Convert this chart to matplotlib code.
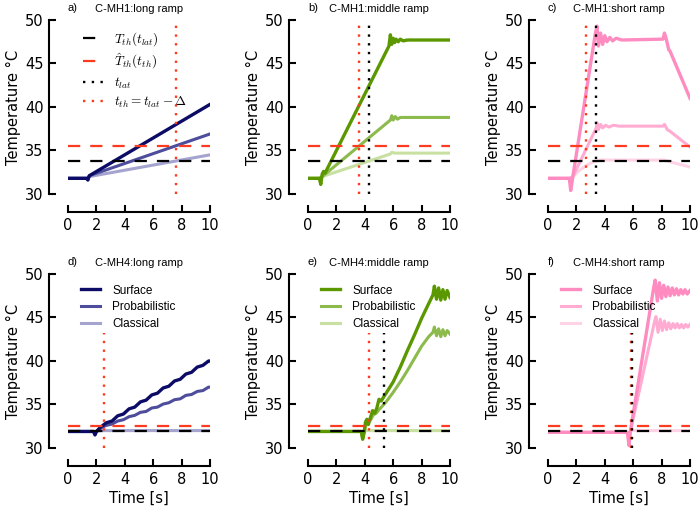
import numpy as np
from matplotlib import pyplot as plt
from matplotlib.lines import Line2D

plt.rcParams['font.family'] = 'DejaVu Sans'
plt.rcParams['mathtext.fontset'] = 'cm'

# panel titles
letters = ['a)', 'b)', 'c)', 'd)', 'e)', 'f)']
titles = ['C-MH1:long ramp', 'C-MH1:middle ramp', 'C-MH1:short ramp',
          'C-MH4:long ramp', 'C-MH4:middle ramp', 'C-MH4:short ramp']

# threshold levels (black = T_th(t_lat), red = hat T_th(t_th))
T_lat = [33.8, 33.8, 33.8, 32.0, 32.0, 32.0]
T_th = [35.5, 35.5, 35.5, 32.5, 32.5, 32.5]
# vertical markers (None = outside of plot)
t_lat = [None, 4.3, 3.35, None, 5.35, 5.95]
t_th = [7.6, 3.6, 2.7, 2.5, 4.3, 5.85]
vline_top = [49.5, 49.5, 49.5, 43.2, 43.2, 43.2]

# ---- a) C-MH1 long ramp
a_surf_t = [0, 1.3, 1.4, 1.5, 10]
a_surf_T = [31.8, 31.8, 31.6, 32.1, 40.3]
a_prob_t = [0, 1.3, 1.4, 1.5, 10]
a_prob_T = [31.8, 31.8, 31.7, 32.1, 36.9]
a_clas_t = [0, 1.3, 1.5, 10]
a_clas_T = [31.8, 31.8, 32.0, 34.5]

# ---- b) C-MH1 middle ramp
b_surf_t = [0, 0.8, 0.9, 1.0, 1.1, 1.2, 5.7, 5.8, 5.9, 6.0, 6.1, 6.2, 6.35, 6.5, 6.7, 7.0, 10]
b_surf_T = [31.8, 31.8, 31.1, 32.3, 32.6, 32.4, 47.0, 48.3, 47.2, 47.9, 47.4, 47.8, 47.5, 47.8, 47.6, 47.7, 47.7]
b_prob_t = [0, 0.8, 1.0, 5.8, 5.9, 6.0, 6.15, 6.3, 6.5, 10]
b_prob_T = [31.8, 31.8, 32.0, 38.5, 39.0, 38.5, 38.9, 38.6, 38.8, 38.8]
b_clas_t = [0, 0.8, 1.0, 5.8, 5.9, 6.1, 10]
b_clas_T = [31.8, 31.8, 32.0, 34.6, 34.8, 34.7, 34.7]

# ---- c) C-MH1 short ramp
c_surf_t = [0, 1.5, 1.6, 1.75, 3.35, 3.45, 3.55, 3.7, 3.85, 4.0, 4.15, 4.35, 4.55, 4.8, 5.2,
            8.1, 8.2, 8.3, 8.5, 8.6, 10]
c_surf_T = [31.8, 31.8, 30.4, 32.0, 48.6, 49.3, 47.0, 48.5, 47.2, 48.2, 47.5, 48.0, 47.6, 47.9, 47.7,
            47.8, 48.5, 48.0, 46.6, 46.4, 41.0]
c_prob_t = [0, 1.5, 1.75, 3.4, 3.45, 3.55, 3.7, 3.85, 4.05, 4.3, 4.6, 5.0, 8.1, 8.2, 8.4, 8.6, 10]
c_prob_T = [31.8, 31.8, 32.0, 37.6, 38.2, 37.4, 38.0, 37.6, 37.9, 37.7, 37.9, 37.8, 37.8, 38.0, 37.4, 37.2, 35.4]
c_clas_t = [0, 1.5, 1.75, 2.2, 2.7, 3.2, 3.7, 8.2, 8.6, 10]
c_clas_T = [31.8, 31.8, 32.0, 32.7, 33.3, 33.7, 33.9, 33.9, 33.7, 33.1]

# ---- d) C-MH4 long ramp
d_surf_t = [0, 1.8, 1.9, 2.0, 2.3, 2.7, 3.1, 3.5, 3.9, 4.3, 4.7, 5.1, 5.5, 5.9, 6.3, 6.7,
            7.1, 7.5, 7.9, 8.3, 8.7, 9.1, 9.5, 9.9, 10]
d_surf_T = [31.9, 31.9, 31.5, 31.9, 32.4, 32.9, 33.1, 33.7, 33.9, 34.5, 34.7, 35.3, 35.5, 36.1, 36.3, 36.9,
            37.1, 37.7, 37.9, 38.5, 38.7, 39.3, 39.5, 40.0, 40.0]
d_prob_t = [0, 1.8, 1.9, 2.0, 2.3, 2.7, 3.1, 3.5, 3.9, 4.3, 4.7, 5.1, 5.5, 5.9, 6.3, 6.7,
            7.1, 7.5, 7.9, 8.3, 8.7, 9.1, 9.5, 9.9, 10]
d_prob_T = [31.9, 31.9, 31.6, 31.9, 32.3, 32.6, 32.75, 33.1, 33.25, 33.6, 33.75, 34.1, 34.2, 34.6, 34.7, 35.05,
            35.2, 35.55, 35.65, 36.05, 36.15, 36.5, 36.6, 37.0, 37.0]
d_clas_t = [0, 1.8, 1.9, 2.0, 2.3, 10]
d_clas_T = [31.9, 31.9, 31.6, 31.9, 32.0, 32.0]

# ---- e) C-MH4 middle ramp
e_surf_t = [0, 3.75, 3.85, 3.95, 4.05, 4.15, 4.25, 4.4, 4.55, 4.7, 4.85, 5.0, 5.15, 5.5, 6.0, 6.5,
            7.0, 7.5, 8.0, 8.5, 8.8, 8.9, 9.05, 9.2, 9.35, 9.5, 9.65, 9.8, 10]
e_surf_T = [31.9, 31.9, 31.0, 31.8, 33.0, 33.3, 32.7, 33.5, 34.3, 34.0, 34.6, 35.6, 35.4, 36.3, 37.6, 39.3,
            41.2, 43.0, 44.9, 46.6, 47.6, 48.6, 47.1, 48.4, 47.0, 48.2, 47.1, 48.1, 47.3]
e_prob_t = [0, 3.75, 3.85, 3.95, 4.05, 4.2, 4.4, 4.6, 4.8, 5.0, 5.5, 6.0, 6.5, 7.0, 7.5, 8.0, 8.5,
            8.8, 8.9, 9.05, 9.2, 9.35, 9.5, 9.65, 9.8, 10]
e_prob_T = [31.9, 31.9, 31.2, 31.8, 32.5, 33.0, 33.2, 33.8, 34.0, 34.4, 35.3, 36.4, 37.6, 38.9, 40.3, 41.7, 42.8,
            43.3, 43.9, 42.9, 43.7, 42.8, 43.6, 42.9, 43.5, 43.1]
e_clas_t = [0, 3.75, 3.85, 4.0, 4.1, 10]
e_clas_T = [31.9, 31.9, 31.2, 31.9, 32.0, 32.0]

# ---- f) C-MH4 short ramp
f_surf_t = [0, 5.6, 5.7, 5.8, 7.45, 7.55, 7.7, 7.85, 8.0, 8.15, 8.3, 8.45, 8.6, 8.75, 8.9,
            9.05, 9.2, 9.35, 9.5, 9.65, 9.8, 10]
f_surf_T = [31.8, 31.8, 30.3, 31.9, 48.5, 49.3, 46.9, 49.0, 47.2, 48.7, 47.4, 48.5, 47.5, 48.4, 47.6,
            48.3, 47.6, 48.2, 47.7, 48.2, 47.7, 48.1]
f_prob_t = [0, 5.6, 5.7, 5.8, 7.5, 7.6, 7.75, 7.9, 8.05, 8.2, 8.35, 8.5, 8.65, 8.8, 8.95,
            9.1, 9.25, 9.4, 9.55, 9.7, 9.85, 10]
f_prob_T = [31.8, 31.8, 30.6, 31.9, 44.5, 45.1, 43.3, 44.8, 43.5, 44.6, 43.6, 44.4, 43.7, 44.3, 43.8,
            44.3, 43.8, 44.2, 43.8, 44.2, 43.9, 44.2]
f_clas_t = [0, 5.6, 5.7, 5.8, 10]
f_clas_T = [31.8, 31.8, 30.8, 32.0, 32.0]

surf = [(a_surf_t, a_surf_T), (b_surf_t, b_surf_T), (c_surf_t, c_surf_T),
        (d_surf_t, d_surf_T), (e_surf_t, e_surf_T), (f_surf_t, f_surf_T)]
prob = [(a_prob_t, a_prob_T), (b_prob_t, b_prob_T), (c_prob_t, c_prob_T),
        (d_prob_t, d_prob_T), (e_prob_t, e_prob_T), (f_prob_t, f_prob_T)]
clas = [(a_clas_t, a_clas_T), (b_clas_t, b_clas_T), (c_clas_t, c_clas_T),
        (d_clas_t, d_clas_T), (e_clas_t, e_clas_T), (f_clas_t, f_clas_T)]

# colours per column: surface, probabilistic, classical
colours = [['#0c0c66', '#4d4d9c', '#a4a4cf'],
           ['#5b9800', '#8cba4c', '#c8e0a2'],
           ['#ff8cc0', '#ffabd2', '#ffd3e6']]
red = '#ff3b1f'

dash = (0, (5.5, 4.5))
dots = (0, (1, 2.7))

fig = plt.figure(figsize=(7.0, 5.12), dpi=100)
lefts = [68 / 700, 308 / 700, 548 / 700]
bottoms = [1 - 194 / 512, 1 - 448 / 512]
w = 142 / 700
h = 174 / 512

for i in range(6):
    row, col = divmod(i, 3)
    ax = fig.add_axes([lefts[col], bottoms[row], w, h])
    cs = colours[col]
    ax.plot(*clas[i], color=cs[2], lw=2.2, label='Classical', zorder=2)
    ax.plot(*prob[i], color=cs[1], lw=2.2, label='Probabilistic', zorder=3)
    ax.plot(*surf[i], color=cs[0], lw=2.4, label='Surface', zorder=4)
    ax.axhline(T_lat[i], color='black', lw=1.6, ls=dash, zorder=5)
    ax.axhline(T_th[i], color=red, lw=1.6, ls=dash, zorder=5)
    if t_th[i] is not None:
        ax.vlines(t_th[i], 30, vline_top[i], color=red, lw=1.7, linestyles=[dots], zorder=6)
    if t_lat[i] is not None:
        ax.vlines(t_lat[i], 30, vline_top[i], color='black', lw=1.7, linestyles=[dots], zorder=6)

    ax.set_xlim(0, 10)
    ax.set_ylim(30, 50)
    ax.set_xticks([0, 2, 4, 6, 8, 10])
    ax.set_yticks([30, 35, 40, 45, 50])
    for s in ['top', 'right']:
        ax.spines[s].set_visible(False)
    ax.spines['left'].set_position(('outward', 13.5))
    ax.spines['bottom'].set_position(('outward', 13))
    for s in ['left', 'bottom']:
        ax.spines[s].set_linewidth(1.5)
    ax.tick_params(direction='in', length=5, width=1.5, labelsize=10.5, pad=4)
    ax.set_ylabel('Temperature °C', fontsize=10.5, labelpad=3)
    if row == 1:
        ax.set_xlabel('Time [s]', fontsize=10.5, labelpad=3)

    ax.set_title(titles[i], fontsize=8, family='Liberation Sans', pad=6)
    ax.text(0.0, 1.04, letters[i], transform=ax.transAxes, fontsize=8,
            family='Liberation Sans', ha='left', va='bottom')

    if i == 0:
        handles = [Line2D([], [], color='black', lw=1.6, ls=dash),
                   Line2D([], [], color=red, lw=1.6, ls=dash),
                   Line2D([], [], color='black', lw=1.7, ls=dots),
                   Line2D([], [], color=red, lw=1.7, ls=dots)]
        names = [r'$T_{th}(t_{lat})$', r'$\hat{T}_{th}(t_{th})$', r'$t_{lat}$',
                 r'$t_{th}=t_{lat}-\Delta$']
        ax.legend(handles, names, loc='upper left', frameon=False,
                  prop={'family': 'Liberation Sans', 'size': 9.5},
                  handlelength=1.5, handletextpad=0.9, labelspacing=0.3,
                  bbox_to_anchor=(0.02, 1.01))
    elif row == 1:
        hs, ls = ax.get_legend_handles_labels()
        ax.legend(hs[::-1], ls[::-1], loc='upper left', frameon=False,
                  prop={'family': 'Liberation Sans', 'size': 8.5},
                  handlelength=1.6, handletextpad=1.0, labelspacing=0.4,
                  bbox_to_anchor=(0.02, 1.0))

fig.savefig('out.png', dpi=100)
